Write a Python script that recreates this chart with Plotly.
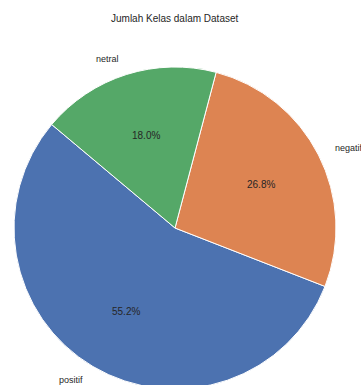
import math
import plotly.graph_objects as go

categories = ["positif", "negatif", "netral"]
percentages = [55.2, 26.8, 18.0]
colors = ["#4C72B0", "#DD8452", "#55A868"]
title_text = "Jumlah Kelas dalam Dataset"

W, H = 361, 400
cx, cy, r = 175, 228, 161  # pie centre/radius in pixels (top-left origin)
start_deg = 140  # matplotlib-style start angle (math degrees, CCW)

total = sum(percentages)
first_end = start_deg + percentages[0] / total * 360
rotation = 90 - first_end
while rotation > 360:
    rotation -= 360
while rotation < -360:
    rotation += 360

fig = go.Figure(go.Pie(
    labels=categories,
    values=percentages,
    sort=False,
    direction="counterclockwise",
    rotation=rotation,
    marker=dict(colors=colors, line=dict(color="white", width=1)),
    textinfo="none",
    hoverinfo="label+percent",
    domain=dict(x=[(cx - r) / W, (cx + r) / W], y=[1 - (cy + r) / H, 1 - (cy - r) / H]),
    showlegend=False,
))

font_color = "#262626"
ang = start_deg
for cat, v in zip(categories, percentages):
    span = v / total * 360
    mid = math.radians(ang + span / 2)
    ang += span
    lx = cx + 1.1 * r * math.cos(mid)
    ly = cy - 1.1 * r * math.sin(mid)
    fig.add_annotation(x=lx / W, y=1 - ly / H, xref="paper", yref="paper",
                       text=cat, showarrow=False,
                       xanchor="left" if math.cos(mid) > 0 else "right", yanchor="middle",
                       font=dict(size=9, color=font_color, family="Liberation Sans, Arial"))
    px = cx + 0.6 * r * math.cos(mid)
    py = cy - 0.6 * r * math.sin(mid)
    fig.add_annotation(x=px / W, y=1 - py / H, xref="paper", yref="paper",
                       text=f"{v / total * 100:.1f}%", showarrow=False,
                       xanchor="center", yanchor="middle",
                       font=dict(size=10, color=font_color, family="Liberation Sans, Arial"))

fig.add_annotation(x=cx / W, y=1 - 18 / H, xref="paper", yref="paper",
                   text=title_text, showarrow=False, xanchor="center", yanchor="middle",
                   font=dict(size=10, color=font_color, family="Liberation Sans, Arial"))

fig.update_layout(width=W, height=H, margin=dict(l=0, r=0, t=0, b=0),
                  paper_bgcolor="white", plot_bgcolor="white")

fig.write_html("out.html", config={"displayModeBar": False},
               post_script="document.body.style.margin='0';document.body.style.overflow='hidden';document.documentElement.style.overflow='hidden';")
